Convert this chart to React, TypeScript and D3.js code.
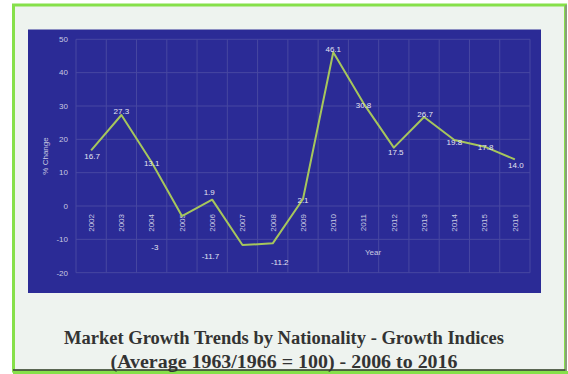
import React from "react";
import * as d3 from "d3";

const years = ["2002","2003","2004","2005","2006","2007","2008","2009","2010","2011","2012","2013","2014","2015","2016"];
const values = [16.7, 27.3, 13.1, -3, 1.9, -11.7, -11.2, 2.1, 46.1, 30.8, 17.5, 26.7, 19.8, 17.8, 14.0];
const valueLabels = ["16.7","27.3","13.1","-3","1.9","-11.7","-11.2","2.1","46.1","30.8","17.5","26.7","19.8","17.8","14.0"];
const yTicks = [-20, -10, 0, 10, 20, 30, 40, 50];
const titleLines = [
  "Market Growth Trends by Nationality - Growth Indices",
  "(Average 1963/1966 = 100) - 2006 to 2016",
];
// label offsets (styling) relative to each point
const labelDx = [1, 0, 0, -27, -3, -32, 7, 0, 0, 0, 2, 1, 0, 1, 1];
const labelDy = [6, -4, 1, 31, -7, 11, 19, 1, -3, 2, 5, -3, 2, 1, 6];
const titleWidths = [440, 347];

const W = 568, H = 374;

export default function App() {
  const x = d3.scaleBand<string>().domain(years).range([76, 530]);
  const y = d3.scaleLinear().domain([-20, 50]).range([272.7, 39.3]);
  const cx = (d: string) => (x(d) as number) + x.bandwidth() / 2;
  const line = d3.line<number>()
    .x((_, i) => cx(years[i]))
    .y((v) => y(v));
  const font = "'Liberation Sans', Arial, sans-serif";
  const gridColor = "#4848a2";
  const textColor = "#c9cae2";

  return (
    <svg width={W} height={H} style={{ position: "absolute", left: 0, top: 0, display: "block" }}>
      <rect x={0} y={0} width={W} height={H} fill="#ffffff" />
      {/* outer frame */}
      <rect x={13.5} y={5} width={552} height={366} fill="#eef3ef" stroke="#86e04a" strokeWidth={3} />
      <line x1={13} x2={566} y1={370} y2={370} stroke="#3a3a3a" strokeWidth={1.5} />
      <line x1={566} x2={566} y1={5} y2={371} stroke="#8a8a8a" strokeWidth={1.5} />
      <line x1={13} x2={568} y1={372.5} y2={372.5} stroke="#86e04a" strokeWidth={3} />
      {/* plot background */}
      <rect x={28} y={29.5} width={513} height={263.5} fill="#2b2b96" />
      {/* gridlines */}
      {yTicks.map((t) => (
        <line key={"h" + t} x1={76} x2={530} y1={y(t)} y2={y(t)} stroke={gridColor} strokeWidth={1} />
      ))}
      {years.map((yr) => (
        <line key={"v" + yr} x1={x(yr)} x2={x(yr)} y1={y(50)} y2={y(-20)} stroke={gridColor} strokeWidth={1} />
      ))}
      <line x1={530} x2={530} y1={y(50)} y2={y(-20)} stroke={gridColor} strokeWidth={1} />
      {/* y tick labels */}
      {yTicks.map((t) => (
        <text key={"yt" + t} x={68} y={y(t)} dy="0.35em" textAnchor="end" fontFamily={font} fontSize={8} fill={textColor}>
          {t}
        </text>
      ))}
      <text transform={`translate(45,${(y(50) + y(-20)) / 2}) rotate(-90)`} textAnchor="middle" dy="0.35em"
        fontFamily={font} fontSize={8} fill={textColor}>% Change</text>
      {/* x tick labels */}
      {years.map((yr) => (
        <text key={"xt" + yr} transform={`translate(${cx(yr)},${y(0) + 8}) rotate(-90)`} textAnchor="end" dy="0.35em"
          fontFamily={font} fontSize={8} fill={textColor}>{yr}</text>
      ))}
      <text x={373} y={252} dy="0.35em" textAnchor="middle" fontFamily={font} fontSize={8} fill={textColor}>Year</text>
      {/* line */}
      <path d={line(values) || ""} fill="none" stroke="#a6c65c" strokeWidth={2} strokeLinejoin="round" />
      {/* data labels */}
      {values.map((v, i) => (
        <text key={"lb" + i} x={cx(years[i]) + labelDx[i]} y={y(v) + labelDy[i]} dy="0.35em" textAnchor="middle"
          fontFamily={font} fontSize={8} fill="#e4e4f2">{valueLabels[i]}</text>
      ))}
      {/* title */}
      {titleLines.map((t, i) => (
        <text key={"tt" + i} x={284} y={344 + i * 23.5} textAnchor="middle"
          textLength={titleWidths[i]} lengthAdjust="spacingAndGlyphs"
          fontFamily="'Liberation Serif', 'DejaVu Serif', serif" fontWeight="bold" fontSize={18} fill="#333333">{t}</text>
      ))}
    </svg>
  );
}
